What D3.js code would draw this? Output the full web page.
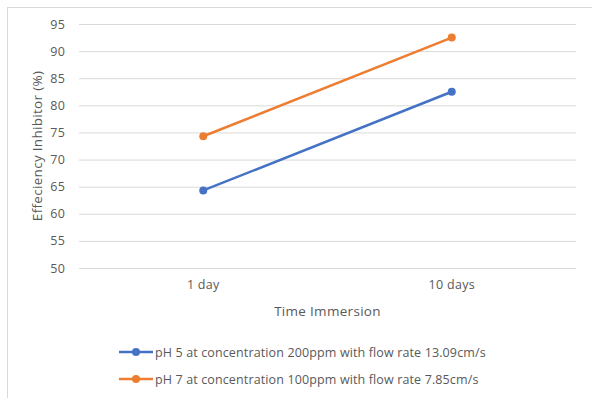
<!DOCTYPE html>
<html>
<head>
<meta charset="utf-8">
<script src="https://cdn.jsdelivr.net/npm/d3@7"></script>
<style>
  body { margin: 0; background: #fff; }
  text { font-family: "Open Sans", sans-serif; fill: #595959; }
</style>
</head>
<body>
<script>
// chart data
const categories = ["1 day", "10 days"];
const seriesNames = [
  "pH 5 at concentration 200ppm with flow rate 13.09cm/s",
  "pH 7 at concentration 100ppm with flow rate 7.85cm/s"
];
const ph5Values = [64.3, 82.5];
const ph7Values = [74.3, 92.5];
const yTicks = [50, 55, 60, 65, 70, 75, 80, 85, 90, 95];
const colors = ["#4472C4", "#ED7D31"];

const series = [
  { name: seriesNames[0], values: ph5Values, color: colors[0] },
  { name: seriesNames[1], values: ph7Values, color: colors[1] }
];

const W = 592, H = 398;
const plotLeft = 79, plotRight = 576, plotTop = 24, plotBottom = 268;

const svg = d3.select("body")
  .append("svg")
  .attr("width", W)
  .attr("height", H);

// outer chart border
svg.append("rect")
  .attr("x", 7.5).attr("y", 7.5)
  .attr("width", 620).attr("height", 420)
  .attr("fill", "none")
  .attr("stroke", "#d9d9d9");

const x = d3.scaleBand()
  .domain(categories)
  .range([plotLeft, plotRight]);

const y = d3.scaleLinear()
  .domain([50, 95])
  .range([plotBottom, plotTop]);

// gridlines + y labels
const yAxis = svg.append("g")
  .attr("transform", `translate(${plotLeft},0)`)
  .call(d3.axisLeft(y).tickValues(yTicks).tickSize(-(plotRight - plotLeft)).tickPadding(14));
yAxis.select(".domain").remove();
yAxis.selectAll(".tick line").attr("stroke", "#d9d9d9").attr("stroke-width", 1);
yAxis.selectAll(".tick text")
  .style("font-size", "12.5px")
  .style("letter-spacing", "0.2px")
  .attr("fill", "#595959");

// x labels
const xAxis = svg.append("g")
  .attr("transform", `translate(0,${plotBottom})`)
  .call(d3.axisBottom(x).tickSize(0).tickPadding(12));
xAxis.select(".domain").remove();
xAxis.selectAll(".tick text")
  .style("font-size", "12.5px")
  .style("letter-spacing", "0.3px")
  .attr("fill", "#595959");

// axis titles
svg.append("text")
  .attr("x", (plotLeft + plotRight) / 2)
  .attr("y", 316)
  .attr("text-anchor", "middle")
  .style("font-size", "13.5px")
  .style("letter-spacing", "0.3px")
  .text("Time Immersion");

svg.append("text")
  .attr("transform", `translate(42,${(plotTop + plotBottom) / 2}) rotate(-90)`)
  .attr("text-anchor", "middle")
  .style("font-size", "13.5px")
  .style("letter-spacing", "0.3px")
  .text("Effeciency Inhibitor (%)");

// lines
const line = d3.line()
  .x((d, i) => x(categories[i]) + x.bandwidth() / 2)
  .y(d => y(d));

series.forEach(s => {
  svg.append("path")
    .datum(s.values)
    .attr("fill", "none")
    .attr("stroke", s.color)
    .attr("stroke-width", 2.5)
    .attr("stroke-linecap", "round")
    .attr("d", line);

  svg.selectAll(null)
    .data(s.values)
    .enter()
    .append("circle")
    .attr("cx", (d, i) => x(categories[i]) + x.bandwidth() / 2)
    .attr("cy", d => y(d))
    .attr("r", 4)
    .attr("fill", s.color);
});

// legend
const legend = svg.append("g");
series.forEach((s, i) => {
  const ly = 352 + i * 27;
  legend.append("line")
    .attr("x1", 119).attr("x2", 153)
    .attr("y1", ly).attr("y2", ly)
    .attr("stroke", s.color)
    .attr("stroke-width", 2.5);
  legend.append("circle")
    .attr("cx", 136).attr("cy", ly)
    .attr("r", 4)
    .attr("fill", s.color);
  legend.append("text")
    .attr("x", 155)
    .attr("y", ly + 4.5)
    .style("font-size", "12.5px")
    .style("letter-spacing", "0.13px")
    .text(s.name);
});
</script>
</body>
</html>
